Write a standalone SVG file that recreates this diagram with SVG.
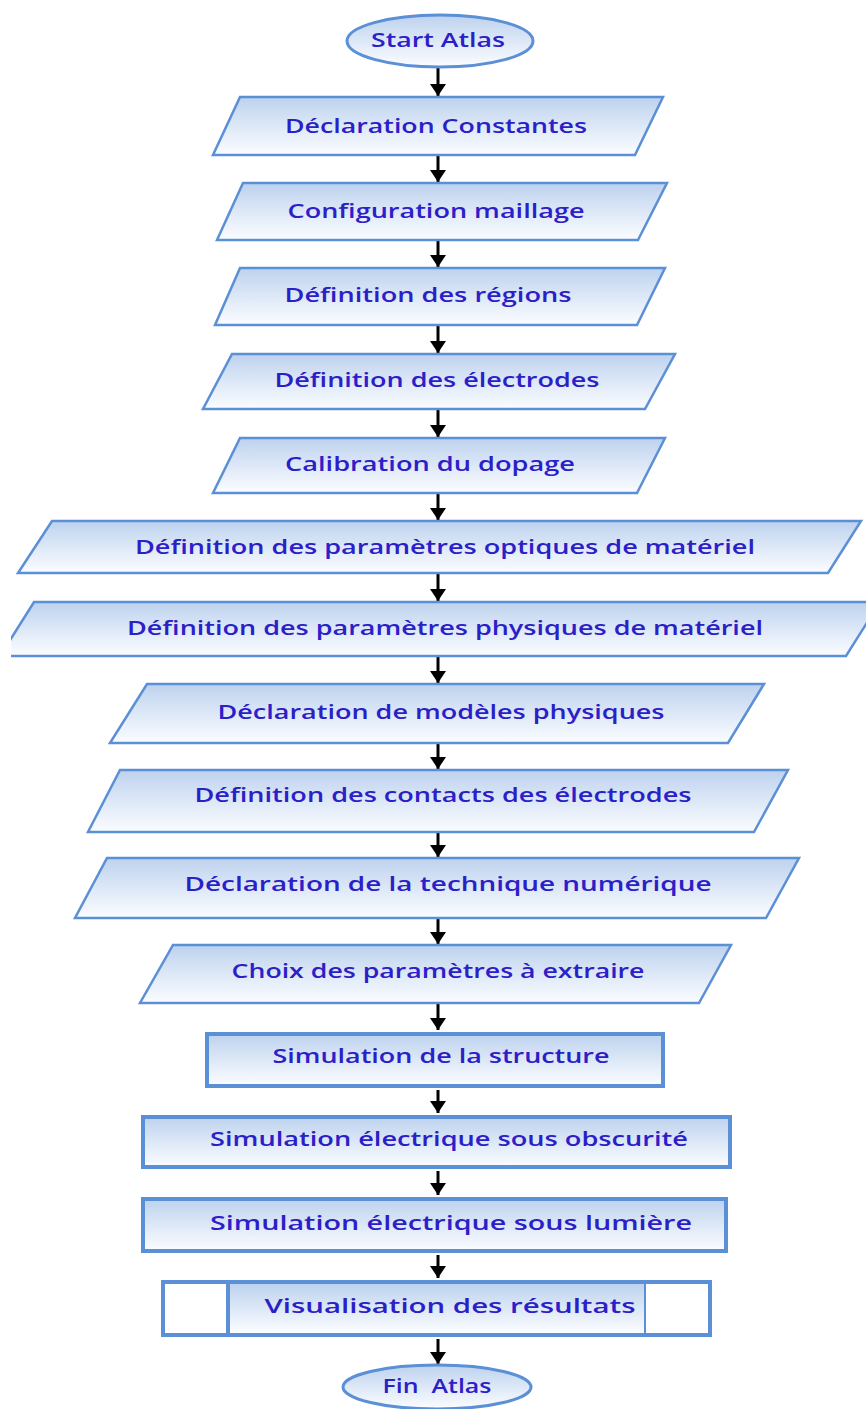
<svg xmlns="http://www.w3.org/2000/svg" width="866" height="1409" viewBox="0 0 866 1409">
<defs>
<linearGradient id="g" x1="0" y1="0" x2="0" y2="1">
<stop offset="0" stop-color="#bdd2ee"/>
<stop offset="0.5" stop-color="#dde8f7"/>
<stop offset="1" stop-color="#fbfdff"/>
</linearGradient>
<marker id="ah" markerUnits="userSpaceOnUse" markerWidth="18" markerHeight="18" refX="12" refY="8" orient="auto">
<path d="M0,0 L12,8 L0,16 Z" fill="#000"/>
</marker>
<clipPath id="clip7"><rect x="11" y="590" width="855" height="80"/></clipPath>
</defs>
<style>
.p{fill:url(#g);stroke:#5b8fd6;stroke-width:2.5;stroke-linejoin:miter}
.r{fill:url(#g);stroke:#5b8fd6;stroke-width:4}
.e{fill:url(#g);stroke:#5b8fd6;stroke-width:3}
.w{fill:#fff;stroke:#5b8fd6;stroke-width:4}
.t{font-family:"Open Sans","Liberation Sans",sans-serif;font-weight:600;font-size:19px;fill:#2b20c8;text-anchor:middle}
.c line{stroke:#000;stroke-width:3;marker-end:url(#ah)}
</style>

<g class="c" id="connectors">
<line x1="438" y1="67" x2="438" y2="96"/>
<line x1="438" y1="155" x2="438" y2="182"/>
<line x1="438" y1="240" x2="438" y2="267"/>
<line x1="438" y1="325" x2="438" y2="353"/>
<line x1="438" y1="409" x2="438" y2="437"/>
<line x1="438" y1="493" x2="438" y2="520"/>
<line x1="438" y1="573" x2="438" y2="601"/>
<line x1="438" y1="656" x2="438" y2="683"/>
<line x1="438" y1="743" x2="438" y2="769"/>
<line x1="438" y1="832" x2="438" y2="857"/>
<line x1="438" y1="918" x2="438" y2="944"/>
<line x1="438" y1="1003" x2="438" y2="1030"/>
<line x1="438" y1="1090" x2="438" y2="1113"/>
<line x1="438" y1="1171" x2="438" y2="1195"/>
<line x1="438" y1="1255" x2="438" y2="1278"/>
<line x1="438" y1="1339" x2="438" y2="1364"/>
</g>

<g id="start">
<ellipse class="e" cx="440" cy="41" rx="93" ry="26"/>
<text class="t" x="438" y="47" textLength="134" lengthAdjust="spacingAndGlyphs">Start Atlas</text>
</g>

<g id="n1">
<polygon class="p" points="240,97 663,97 635,155 213,155"/>
<text class="t" x="436" y="133" textLength="302" lengthAdjust="spacingAndGlyphs">Déclaration Constantes</text>
</g>
<g id="n2">
<polygon class="p" points="243,183 667,183 638,240 217,240"/>
<text class="t" x="436" y="218" textLength="297" lengthAdjust="spacingAndGlyphs">Configuration maillage</text>
</g>
<g id="n3">
<polygon class="p" points="240,268 665,268 637,325 215,325"/>
<text class="t" x="428" y="302" textLength="287" lengthAdjust="spacingAndGlyphs">Définition des régions</text>
</g>
<g id="n4">
<polygon class="p" points="232,354 675,354 645,409 203,409"/>
<text class="t" x="437" y="387" textLength="325" lengthAdjust="spacingAndGlyphs">Définition des électrodes</text>
</g>
<g id="n5">
<polygon class="p" points="240,438 665,438 637,493 213,493"/>
<text class="t" x="430" y="471" textLength="290" lengthAdjust="spacingAndGlyphs">Calibration du dopage</text>
</g>
<g id="n6">
<polygon class="p" points="52,521 861,521 828,573 18,573"/>
<text class="t" x="445" y="554" textLength="620" lengthAdjust="spacingAndGlyphs">Définition des paramètres optiques de matériel</text>
</g>
<g id="n7">
<polygon class="p" points="34,602 880,602 846,656 0,656" clip-path="url(#clip7)"/>
<text class="t" x="445" y="635" textLength="636" lengthAdjust="spacingAndGlyphs">Définition des paramètres physiques de matériel</text>
</g>
<g id="n8">
<polygon class="p" points="147,684 764,684 728,743 110,743"/>
<text class="t" x="441" y="719" textLength="447" lengthAdjust="spacingAndGlyphs">Déclaration de modèles physiques</text>
</g>
<g id="n9">
<polygon class="p" points="120,770 788,770 754,832 88,832"/>
<text class="t" x="443" y="802" textLength="497" lengthAdjust="spacingAndGlyphs">Définition des contacts des électrodes</text>
</g>
<g id="n10">
<polygon class="p" points="107,858 799,858 766,918 75,918"/>
<text class="t" x="448" y="891" textLength="527" lengthAdjust="spacingAndGlyphs">Déclaration de la technique numérique</text>
</g>
<g id="n11">
<polygon class="p" points="173,945 731,945 699,1003 140,1003"/>
<text class="t" x="438" y="978" textLength="413" lengthAdjust="spacingAndGlyphs">Choix des paramètres à extraire</text>
</g>
<g id="n12">
<rect class="r" x="207" y="1034" width="456" height="52"/>
<text class="t" x="441" y="1063" textLength="337" lengthAdjust="spacingAndGlyphs">Simulation de la structure</text>
</g>
<g id="n13">
<rect class="r" x="143" y="1117" width="587" height="50"/>
<text class="t" x="449" y="1146" textLength="478" lengthAdjust="spacingAndGlyphs">Simulation électrique sous obscurité</text>
</g>
<g id="n14">
<rect class="r" x="143" y="1199" width="583" height="52"/>
<text class="t" x="451" y="1230" textLength="482" lengthAdjust="spacingAndGlyphs">Simulation électrique sous lumière</text>
</g>
<g id="n15">
<rect class="w" x="163" y="1282" width="547" height="53"/>
<rect x="228" y="1284" width="417" height="49" fill="url(#g)"/>
<line x1="228" y1="1282" x2="228" y2="1335" stroke="#5b8fd6" stroke-width="4"/>
<line x1="645" y1="1282" x2="645" y2="1335" stroke="#5b8fd6" stroke-width="2"/>
<text class="t" x="450" y="1313" textLength="371" lengthAdjust="spacingAndGlyphs">Visualisation des résultats</text>
</g>
<g id="end">
<ellipse class="e" cx="437" cy="1387" rx="94" ry="22"/>
<text class="t" x="437" y="1393" textLength="109" lengthAdjust="spacingAndGlyphs" xml:space="preserve">Fin  Atlas</text>
</g>
</svg>
